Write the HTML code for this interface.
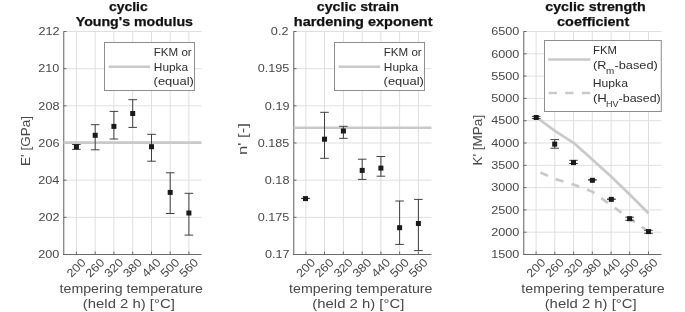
<!DOCTYPE html>
<html><head><meta charset="utf-8"><style>
html,body{margin:0;padding:0;background:#fff;}
svg{display:block;font-family:"Liberation Sans", sans-serif;}
text{-webkit-font-smoothing:antialiased;}
svg{will-change:transform;}
</style></head><body>
<svg width="685" height="312" viewBox="0 0 685 312">
<rect width="685" height="312" fill="#fff"/>
<line x1="63.5" y1="31.50" x2="201.5" y2="31.50" stroke="#dfdfdf" stroke-width="1"/>
<line x1="63.5" y1="68.67" x2="201.5" y2="68.67" stroke="#dfdfdf" stroke-width="1"/>
<line x1="63.5" y1="105.83" x2="201.5" y2="105.83" stroke="#dfdfdf" stroke-width="1"/>
<line x1="63.5" y1="143.00" x2="201.5" y2="143.00" stroke="#dfdfdf" stroke-width="1"/>
<line x1="63.5" y1="180.17" x2="201.5" y2="180.17" stroke="#dfdfdf" stroke-width="1"/>
<line x1="63.5" y1="217.33" x2="201.5" y2="217.33" stroke="#dfdfdf" stroke-width="1"/>
<line x1="76.4" y1="31.5" x2="76.4" y2="254.5" stroke="#dfdfdf" stroke-width="1"/>
<line x1="95.2" y1="31.5" x2="95.2" y2="254.5" stroke="#dfdfdf" stroke-width="1"/>
<line x1="113.9" y1="31.5" x2="113.9" y2="254.5" stroke="#dfdfdf" stroke-width="1"/>
<line x1="132.7" y1="31.5" x2="132.7" y2="254.5" stroke="#dfdfdf" stroke-width="1"/>
<line x1="151.5" y1="31.5" x2="151.5" y2="254.5" stroke="#dfdfdf" stroke-width="1"/>
<line x1="170.2" y1="31.5" x2="170.2" y2="254.5" stroke="#dfdfdf" stroke-width="1"/>
<line x1="188.9" y1="31.5" x2="188.9" y2="254.5" stroke="#dfdfdf" stroke-width="1"/>
<line x1="63.75" y1="31.5" x2="63.75" y2="255.0" stroke="#6d6d6d" stroke-width="1.1"/>
<line x1="63.0" y1="254.5" x2="201.5" y2="254.5" stroke="#6a6a6a" stroke-width="1"/>
<line x1="63.5" y1="31.50" x2="66.5" y2="31.50" stroke="#6a6a6a" stroke-width="1"/>
<text x="38.45" y="35.25" font-size="11.6" font-weight="normal" fill="#484848" textLength="21.10" lengthAdjust="spacingAndGlyphs">212</text>
<line x1="63.5" y1="68.67" x2="66.5" y2="68.67" stroke="#6a6a6a" stroke-width="1"/>
<text x="38.29" y="72.42" font-size="11.6" font-weight="normal" fill="#484848" textLength="21.10" lengthAdjust="spacingAndGlyphs">210</text>
<line x1="63.5" y1="105.83" x2="66.5" y2="105.83" stroke="#6a6a6a" stroke-width="1"/>
<text x="38.35" y="109.58" font-size="11.6" font-weight="normal" fill="#484848" textLength="21.10" lengthAdjust="spacingAndGlyphs">208</text>
<line x1="63.5" y1="143.00" x2="66.5" y2="143.00" stroke="#6a6a6a" stroke-width="1"/>
<text x="38.35" y="146.75" font-size="11.6" font-weight="normal" fill="#484848" textLength="21.10" lengthAdjust="spacingAndGlyphs">206</text>
<line x1="63.5" y1="180.17" x2="66.5" y2="180.17" stroke="#6a6a6a" stroke-width="1"/>
<text x="38.16" y="183.92" font-size="11.6" font-weight="normal" fill="#484848" textLength="21.10" lengthAdjust="spacingAndGlyphs">204</text>
<line x1="63.5" y1="217.33" x2="66.5" y2="217.33" stroke="#6a6a6a" stroke-width="1"/>
<text x="38.45" y="221.08" font-size="11.6" font-weight="normal" fill="#484848" textLength="21.10" lengthAdjust="spacingAndGlyphs">202</text>
<line x1="63.5" y1="254.50" x2="66.5" y2="254.50" stroke="#6a6a6a" stroke-width="1"/>
<text x="38.29" y="258.25" font-size="11.6" font-weight="normal" fill="#484848" textLength="21.10" lengthAdjust="spacingAndGlyphs">200</text>
<line x1="76.4" y1="254.5" x2="76.4" y2="251.5" stroke="#6a6a6a" stroke-width="1"/>
<text transform="translate(86.40,263.20) rotate(-45)" x="-21.10" y="0" font-size="11.6" fill="#484848" textLength="21.10" lengthAdjust="spacingAndGlyphs">200</text>
<line x1="95.2" y1="254.5" x2="95.2" y2="251.5" stroke="#6a6a6a" stroke-width="1"/>
<text transform="translate(105.20,263.20) rotate(-45)" x="-21.10" y="0" font-size="11.6" fill="#484848" textLength="21.10" lengthAdjust="spacingAndGlyphs">260</text>
<line x1="113.9" y1="254.5" x2="113.9" y2="251.5" stroke="#6a6a6a" stroke-width="1"/>
<text transform="translate(123.90,263.20) rotate(-45)" x="-21.10" y="0" font-size="11.6" fill="#484848" textLength="21.10" lengthAdjust="spacingAndGlyphs">320</text>
<line x1="132.7" y1="254.5" x2="132.7" y2="251.5" stroke="#6a6a6a" stroke-width="1"/>
<text transform="translate(142.70,263.20) rotate(-45)" x="-21.10" y="0" font-size="11.6" fill="#484848" textLength="21.10" lengthAdjust="spacingAndGlyphs">380</text>
<line x1="151.5" y1="254.5" x2="151.5" y2="251.5" stroke="#6a6a6a" stroke-width="1"/>
<text transform="translate(161.50,263.20) rotate(-45)" x="-21.10" y="0" font-size="11.6" fill="#484848" textLength="21.10" lengthAdjust="spacingAndGlyphs">440</text>
<line x1="170.2" y1="254.5" x2="170.2" y2="251.5" stroke="#6a6a6a" stroke-width="1"/>
<text transform="translate(180.20,263.20) rotate(-45)" x="-21.10" y="0" font-size="11.6" fill="#484848" textLength="21.10" lengthAdjust="spacingAndGlyphs">500</text>
<line x1="188.9" y1="254.5" x2="188.9" y2="251.5" stroke="#6a6a6a" stroke-width="1"/>
<text transform="translate(198.90,263.20) rotate(-45)" x="-21.10" y="0" font-size="11.6" fill="#484848" textLength="21.10" lengthAdjust="spacingAndGlyphs">560</text>
<line x1="293.5" y1="31.50" x2="431.5" y2="31.50" stroke="#dfdfdf" stroke-width="1"/>
<line x1="293.5" y1="68.67" x2="431.5" y2="68.67" stroke="#dfdfdf" stroke-width="1"/>
<line x1="293.5" y1="105.83" x2="431.5" y2="105.83" stroke="#dfdfdf" stroke-width="1"/>
<line x1="293.5" y1="143.00" x2="431.5" y2="143.00" stroke="#dfdfdf" stroke-width="1"/>
<line x1="293.5" y1="180.17" x2="431.5" y2="180.17" stroke="#dfdfdf" stroke-width="1"/>
<line x1="293.5" y1="217.33" x2="431.5" y2="217.33" stroke="#dfdfdf" stroke-width="1"/>
<line x1="305.9" y1="31.5" x2="305.9" y2="254.5" stroke="#dfdfdf" stroke-width="1"/>
<line x1="324.5" y1="31.5" x2="324.5" y2="254.5" stroke="#dfdfdf" stroke-width="1"/>
<line x1="343.4" y1="31.5" x2="343.4" y2="254.5" stroke="#dfdfdf" stroke-width="1"/>
<line x1="362.2" y1="31.5" x2="362.2" y2="254.5" stroke="#dfdfdf" stroke-width="1"/>
<line x1="380.9" y1="31.5" x2="380.9" y2="254.5" stroke="#dfdfdf" stroke-width="1"/>
<line x1="399.6" y1="31.5" x2="399.6" y2="254.5" stroke="#dfdfdf" stroke-width="1"/>
<line x1="418.4" y1="31.5" x2="418.4" y2="254.5" stroke="#dfdfdf" stroke-width="1"/>
<line x1="293.75" y1="31.5" x2="293.75" y2="255.0" stroke="#6d6d6d" stroke-width="1.1"/>
<line x1="293.0" y1="254.5" x2="431.5" y2="254.5" stroke="#6a6a6a" stroke-width="1"/>
<line x1="293.5" y1="31.50" x2="296.5" y2="31.50" stroke="#6a6a6a" stroke-width="1"/>
<text x="270.86" y="35.25" font-size="11.6" font-weight="normal" fill="#484848" textLength="17.58" lengthAdjust="spacingAndGlyphs">0.2</text>
<line x1="293.5" y1="68.67" x2="296.5" y2="68.67" stroke="#6a6a6a" stroke-width="1"/>
<text x="257.76" y="72.42" font-size="11.6" font-weight="normal" fill="#484848" textLength="31.64" lengthAdjust="spacingAndGlyphs">0.195</text>
<line x1="293.5" y1="105.83" x2="296.5" y2="105.83" stroke="#6a6a6a" stroke-width="1"/>
<text x="264.88" y="109.58" font-size="11.6" font-weight="normal" fill="#484848" textLength="24.61" lengthAdjust="spacingAndGlyphs">0.19</text>
<line x1="293.5" y1="143.00" x2="296.5" y2="143.00" stroke="#6a6a6a" stroke-width="1"/>
<text x="257.76" y="146.75" font-size="11.6" font-weight="normal" fill="#484848" textLength="31.64" lengthAdjust="spacingAndGlyphs">0.185</text>
<line x1="293.5" y1="180.17" x2="296.5" y2="180.17" stroke="#6a6a6a" stroke-width="1"/>
<text x="264.84" y="183.92" font-size="11.6" font-weight="normal" fill="#484848" textLength="24.61" lengthAdjust="spacingAndGlyphs">0.18</text>
<line x1="293.5" y1="217.33" x2="296.5" y2="217.33" stroke="#6a6a6a" stroke-width="1"/>
<text x="257.76" y="221.08" font-size="11.6" font-weight="normal" fill="#484848" textLength="31.64" lengthAdjust="spacingAndGlyphs">0.175</text>
<line x1="293.5" y1="254.50" x2="296.5" y2="254.50" stroke="#6a6a6a" stroke-width="1"/>
<text x="264.94" y="258.25" font-size="11.6" font-weight="normal" fill="#484848" textLength="24.61" lengthAdjust="spacingAndGlyphs">0.17</text>
<line x1="305.9" y1="254.5" x2="305.9" y2="251.5" stroke="#6a6a6a" stroke-width="1"/>
<text transform="translate(315.90,263.20) rotate(-45)" x="-21.10" y="0" font-size="11.6" fill="#484848" textLength="21.10" lengthAdjust="spacingAndGlyphs">200</text>
<line x1="324.5" y1="254.5" x2="324.5" y2="251.5" stroke="#6a6a6a" stroke-width="1"/>
<text transform="translate(334.50,263.20) rotate(-45)" x="-21.10" y="0" font-size="11.6" fill="#484848" textLength="21.10" lengthAdjust="spacingAndGlyphs">260</text>
<line x1="343.4" y1="254.5" x2="343.4" y2="251.5" stroke="#6a6a6a" stroke-width="1"/>
<text transform="translate(353.40,263.20) rotate(-45)" x="-21.10" y="0" font-size="11.6" fill="#484848" textLength="21.10" lengthAdjust="spacingAndGlyphs">320</text>
<line x1="362.2" y1="254.5" x2="362.2" y2="251.5" stroke="#6a6a6a" stroke-width="1"/>
<text transform="translate(372.20,263.20) rotate(-45)" x="-21.10" y="0" font-size="11.6" fill="#484848" textLength="21.10" lengthAdjust="spacingAndGlyphs">380</text>
<line x1="380.9" y1="254.5" x2="380.9" y2="251.5" stroke="#6a6a6a" stroke-width="1"/>
<text transform="translate(390.90,263.20) rotate(-45)" x="-21.10" y="0" font-size="11.6" fill="#484848" textLength="21.10" lengthAdjust="spacingAndGlyphs">440</text>
<line x1="399.6" y1="254.5" x2="399.6" y2="251.5" stroke="#6a6a6a" stroke-width="1"/>
<text transform="translate(409.60,263.20) rotate(-45)" x="-21.10" y="0" font-size="11.6" fill="#484848" textLength="21.10" lengthAdjust="spacingAndGlyphs">500</text>
<line x1="418.4" y1="254.5" x2="418.4" y2="251.5" stroke="#6a6a6a" stroke-width="1"/>
<text transform="translate(428.40,263.20) rotate(-45)" x="-21.10" y="0" font-size="11.6" fill="#484848" textLength="21.10" lengthAdjust="spacingAndGlyphs">560</text>
<line x1="523.5" y1="31.50" x2="661.5" y2="31.50" stroke="#dfdfdf" stroke-width="1"/>
<line x1="523.5" y1="53.80" x2="661.5" y2="53.80" stroke="#dfdfdf" stroke-width="1"/>
<line x1="523.5" y1="76.10" x2="661.5" y2="76.10" stroke="#dfdfdf" stroke-width="1"/>
<line x1="523.5" y1="98.40" x2="661.5" y2="98.40" stroke="#dfdfdf" stroke-width="1"/>
<line x1="523.5" y1="120.70" x2="661.5" y2="120.70" stroke="#dfdfdf" stroke-width="1"/>
<line x1="523.5" y1="143.00" x2="661.5" y2="143.00" stroke="#dfdfdf" stroke-width="1"/>
<line x1="523.5" y1="165.30" x2="661.5" y2="165.30" stroke="#dfdfdf" stroke-width="1"/>
<line x1="523.5" y1="187.60" x2="661.5" y2="187.60" stroke="#dfdfdf" stroke-width="1"/>
<line x1="523.5" y1="209.90" x2="661.5" y2="209.90" stroke="#dfdfdf" stroke-width="1"/>
<line x1="523.5" y1="232.20" x2="661.5" y2="232.20" stroke="#dfdfdf" stroke-width="1"/>
<line x1="536.1" y1="31.5" x2="536.1" y2="254.5" stroke="#dfdfdf" stroke-width="1"/>
<line x1="554.8" y1="31.5" x2="554.8" y2="254.5" stroke="#dfdfdf" stroke-width="1"/>
<line x1="573.6" y1="31.5" x2="573.6" y2="254.5" stroke="#dfdfdf" stroke-width="1"/>
<line x1="592.3" y1="31.5" x2="592.3" y2="254.5" stroke="#dfdfdf" stroke-width="1"/>
<line x1="611.1" y1="31.5" x2="611.1" y2="254.5" stroke="#dfdfdf" stroke-width="1"/>
<line x1="629.7" y1="31.5" x2="629.7" y2="254.5" stroke="#dfdfdf" stroke-width="1"/>
<line x1="648.5" y1="31.5" x2="648.5" y2="254.5" stroke="#dfdfdf" stroke-width="1"/>
<line x1="523.75" y1="31.5" x2="523.75" y2="255.0" stroke="#6d6d6d" stroke-width="1.1"/>
<line x1="523.0" y1="254.5" x2="661.5" y2="254.5" stroke="#6a6a6a" stroke-width="1"/>
<line x1="523.5" y1="31.50" x2="526.5" y2="31.50" stroke="#6a6a6a" stroke-width="1"/>
<text x="491.27" y="35.25" font-size="11.6" font-weight="normal" fill="#484848" textLength="28.13" lengthAdjust="spacingAndGlyphs">6500</text>
<line x1="523.5" y1="53.80" x2="526.5" y2="53.80" stroke="#6a6a6a" stroke-width="1"/>
<text x="491.27" y="57.55" font-size="11.6" font-weight="normal" fill="#484848" textLength="28.13" lengthAdjust="spacingAndGlyphs">6000</text>
<line x1="523.5" y1="76.10" x2="526.5" y2="76.10" stroke="#6a6a6a" stroke-width="1"/>
<text x="491.27" y="79.85" font-size="11.6" font-weight="normal" fill="#484848" textLength="28.13" lengthAdjust="spacingAndGlyphs">5500</text>
<line x1="523.5" y1="98.40" x2="526.5" y2="98.40" stroke="#6a6a6a" stroke-width="1"/>
<text x="491.27" y="102.15" font-size="11.6" font-weight="normal" fill="#484848" textLength="28.13" lengthAdjust="spacingAndGlyphs">5000</text>
<line x1="523.5" y1="120.70" x2="526.5" y2="120.70" stroke="#6a6a6a" stroke-width="1"/>
<text x="491.27" y="124.45" font-size="11.6" font-weight="normal" fill="#484848" textLength="28.13" lengthAdjust="spacingAndGlyphs">4500</text>
<line x1="523.5" y1="143.00" x2="526.5" y2="143.00" stroke="#6a6a6a" stroke-width="1"/>
<text x="491.27" y="146.75" font-size="11.6" font-weight="normal" fill="#484848" textLength="28.13" lengthAdjust="spacingAndGlyphs">4000</text>
<line x1="523.5" y1="165.30" x2="526.5" y2="165.30" stroke="#6a6a6a" stroke-width="1"/>
<text x="491.27" y="169.05" font-size="11.6" font-weight="normal" fill="#484848" textLength="28.13" lengthAdjust="spacingAndGlyphs">3500</text>
<line x1="523.5" y1="187.60" x2="526.5" y2="187.60" stroke="#6a6a6a" stroke-width="1"/>
<text x="491.27" y="191.35" font-size="11.6" font-weight="normal" fill="#484848" textLength="28.13" lengthAdjust="spacingAndGlyphs">3000</text>
<line x1="523.5" y1="209.90" x2="526.5" y2="209.90" stroke="#6a6a6a" stroke-width="1"/>
<text x="491.27" y="213.65" font-size="11.6" font-weight="normal" fill="#484848" textLength="28.13" lengthAdjust="spacingAndGlyphs">2500</text>
<line x1="523.5" y1="232.20" x2="526.5" y2="232.20" stroke="#6a6a6a" stroke-width="1"/>
<text x="491.27" y="235.95" font-size="11.6" font-weight="normal" fill="#484848" textLength="28.13" lengthAdjust="spacingAndGlyphs">2000</text>
<line x1="523.5" y1="254.50" x2="526.5" y2="254.50" stroke="#6a6a6a" stroke-width="1"/>
<text x="491.27" y="258.25" font-size="11.6" font-weight="normal" fill="#484848" textLength="28.13" lengthAdjust="spacingAndGlyphs">1500</text>
<line x1="536.1" y1="254.5" x2="536.1" y2="251.5" stroke="#6a6a6a" stroke-width="1"/>
<text transform="translate(546.10,263.20) rotate(-45)" x="-21.10" y="0" font-size="11.6" fill="#484848" textLength="21.10" lengthAdjust="spacingAndGlyphs">200</text>
<line x1="554.8" y1="254.5" x2="554.8" y2="251.5" stroke="#6a6a6a" stroke-width="1"/>
<text transform="translate(564.80,263.20) rotate(-45)" x="-21.10" y="0" font-size="11.6" fill="#484848" textLength="21.10" lengthAdjust="spacingAndGlyphs">260</text>
<line x1="573.6" y1="254.5" x2="573.6" y2="251.5" stroke="#6a6a6a" stroke-width="1"/>
<text transform="translate(583.60,263.20) rotate(-45)" x="-21.10" y="0" font-size="11.6" fill="#484848" textLength="21.10" lengthAdjust="spacingAndGlyphs">320</text>
<line x1="592.3" y1="254.5" x2="592.3" y2="251.5" stroke="#6a6a6a" stroke-width="1"/>
<text transform="translate(602.30,263.20) rotate(-45)" x="-21.10" y="0" font-size="11.6" fill="#484848" textLength="21.10" lengthAdjust="spacingAndGlyphs">380</text>
<line x1="611.1" y1="254.5" x2="611.1" y2="251.5" stroke="#6a6a6a" stroke-width="1"/>
<text transform="translate(621.10,263.20) rotate(-45)" x="-21.10" y="0" font-size="11.6" fill="#484848" textLength="21.10" lengthAdjust="spacingAndGlyphs">440</text>
<line x1="629.7" y1="254.5" x2="629.7" y2="251.5" stroke="#6a6a6a" stroke-width="1"/>
<text transform="translate(639.70,263.20) rotate(-45)" x="-21.10" y="0" font-size="11.6" fill="#484848" textLength="21.10" lengthAdjust="spacingAndGlyphs">500</text>
<line x1="648.5" y1="254.5" x2="648.5" y2="251.5" stroke="#6a6a6a" stroke-width="1"/>
<text transform="translate(658.50,263.20) rotate(-45)" x="-21.10" y="0" font-size="11.6" fill="#484848" textLength="21.10" lengthAdjust="spacingAndGlyphs">560</text>
<text x="108.94" y="10.90" font-size="12.8" font-weight="bold" fill="#111" textLength="38.85" lengthAdjust="spacingAndGlyphs" stroke="#111" stroke-width="0.25">cyclic</text>
<text x="75.75" y="25.60" font-size="12.8" font-weight="bold" fill="#111" textLength="117.25" lengthAdjust="spacingAndGlyphs" stroke="#111" stroke-width="0.25">Young's modulus</text>
<text x="316.83" y="10.90" font-size="12.8" font-weight="bold" fill="#111" textLength="82.04" lengthAdjust="spacingAndGlyphs" stroke="#111" stroke-width="0.25">cyclic strain</text>
<text x="293.78" y="25.60" font-size="12.8" font-weight="bold" fill="#111" textLength="138.72" lengthAdjust="spacingAndGlyphs" stroke="#111" stroke-width="0.25">hardening exponent</text>
<text x="545.23" y="10.90" font-size="12.8" font-weight="bold" fill="#111" textLength="100.44" lengthAdjust="spacingAndGlyphs" stroke="#111" stroke-width="0.25">cyclic strength</text>
<text x="557.12" y="25.60" font-size="12.8" font-weight="bold" fill="#111" textLength="72.07" lengthAdjust="spacingAndGlyphs" stroke="#111" stroke-width="0.25">coefficient</text>
<text x="59.59" y="292.80" font-size="12.8" font-weight="normal" fill="#484848" textLength="143.34" lengthAdjust="spacingAndGlyphs">tempering temperature</text>
<text x="82.87" y="307.50" font-size="12.8" font-weight="normal" fill="#484848" textLength="91.98" lengthAdjust="spacingAndGlyphs">(held 2 h) [°C]</text>
<text x="289.09" y="292.80" font-size="12.8" font-weight="normal" fill="#484848" textLength="143.34" lengthAdjust="spacingAndGlyphs">tempering temperature</text>
<text x="312.37" y="307.50" font-size="12.8" font-weight="normal" fill="#484848" textLength="91.98" lengthAdjust="spacingAndGlyphs">(held 2 h) [°C]</text>
<text x="521.39" y="292.80" font-size="12.8" font-weight="normal" fill="#484848" textLength="143.34" lengthAdjust="spacingAndGlyphs">tempering temperature</text>
<text x="544.67" y="307.50" font-size="12.8" font-weight="normal" fill="#484848" textLength="91.98" lengthAdjust="spacingAndGlyphs">(held 2 h) [°C]</text>
<text transform="rotate(-90)" x="-165.92" y="29.60" font-size="12.8" fill="#484848" textLength="49.96" lengthAdjust="spacingAndGlyphs">E' [GPa]</text>
<text transform="rotate(-90)" x="-155.03" y="246.60" font-size="12.8" fill="#484848" textLength="31.91" lengthAdjust="spacingAndGlyphs">n' [-]</text>
<text transform="rotate(-90)" x="-165.52" y="482.00" font-size="12.8" fill="#484848" textLength="50.66" lengthAdjust="spacingAndGlyphs">K' [MPa]</text>
<line x1="63.5" y1="142.6" x2="201.5" y2="142.6" stroke="#c9c9c9" stroke-width="2.6"/>
<line x1="293.5" y1="127.8" x2="431.5" y2="127.8" stroke="#c9c9c9" stroke-width="2.6"/>
<polyline points="536.2,117.0 554.8,130.8 573.6,142.8 592.3,159.6 611.1,176.5 629.7,194.5 648.5,213.2" fill="none" stroke="#c9c9c9" stroke-width="2.7" stroke-linejoin="round"/>
<polyline points="536.1,170.5 554.8,178.9 573.6,184.6 592.3,191.6 611.1,205.2 629.7,218.6 648.5,231.5" fill="none" stroke="#c9c9c9" stroke-width="2.7" stroke-dasharray="8.3 8.3" stroke-dashoffset="11.9"/>
<line x1="76.4" y1="144.5" x2="76.4" y2="149.4" stroke="#404040" stroke-width="1"/>
<line x1="72.10000000000001" y1="144.5" x2="80.7" y2="144.5" stroke="#404040" stroke-width="1"/>
<line x1="72.10000000000001" y1="149.4" x2="80.7" y2="149.4" stroke="#404040" stroke-width="1"/>
<rect x="73.90" y="144.30" width="5.0" height="5.0" fill="#1a1a1a"/>
<line x1="95.2" y1="124.7" x2="95.2" y2="149.8" stroke="#404040" stroke-width="1"/>
<line x1="90.9" y1="124.7" x2="99.5" y2="124.7" stroke="#404040" stroke-width="1"/>
<line x1="90.9" y1="149.8" x2="99.5" y2="149.8" stroke="#404040" stroke-width="1"/>
<rect x="92.70" y="132.80" width="5.0" height="5.0" fill="#1a1a1a"/>
<line x1="113.9" y1="111.4" x2="113.9" y2="139.0" stroke="#404040" stroke-width="1"/>
<line x1="109.60000000000001" y1="111.4" x2="118.2" y2="111.4" stroke="#404040" stroke-width="1"/>
<line x1="109.60000000000001" y1="139.0" x2="118.2" y2="139.0" stroke="#404040" stroke-width="1"/>
<rect x="111.40" y="123.90" width="5.0" height="5.0" fill="#1a1a1a"/>
<line x1="132.7" y1="99.7" x2="132.7" y2="127.4" stroke="#404040" stroke-width="1"/>
<line x1="128.39999999999998" y1="99.7" x2="137.0" y2="99.7" stroke="#404040" stroke-width="1"/>
<line x1="128.39999999999998" y1="127.4" x2="137.0" y2="127.4" stroke="#404040" stroke-width="1"/>
<rect x="130.20" y="111.00" width="5.0" height="5.0" fill="#1a1a1a"/>
<line x1="151.5" y1="134.3" x2="151.5" y2="161.2" stroke="#404040" stroke-width="1"/>
<line x1="147.2" y1="134.3" x2="155.8" y2="134.3" stroke="#404040" stroke-width="1"/>
<line x1="147.2" y1="161.2" x2="155.8" y2="161.2" stroke="#404040" stroke-width="1"/>
<rect x="149.00" y="144.20" width="5.0" height="5.0" fill="#1a1a1a"/>
<line x1="170.2" y1="172.8" x2="170.2" y2="213.5" stroke="#404040" stroke-width="1"/>
<line x1="165.89999999999998" y1="172.8" x2="174.5" y2="172.8" stroke="#404040" stroke-width="1"/>
<line x1="165.89999999999998" y1="213.5" x2="174.5" y2="213.5" stroke="#404040" stroke-width="1"/>
<rect x="167.70" y="189.90" width="5.0" height="5.0" fill="#1a1a1a"/>
<line x1="188.9" y1="193.3" x2="188.9" y2="235.1" stroke="#404040" stroke-width="1"/>
<line x1="184.6" y1="193.3" x2="193.20000000000002" y2="193.3" stroke="#404040" stroke-width="1"/>
<line x1="184.6" y1="235.1" x2="193.20000000000002" y2="235.1" stroke="#404040" stroke-width="1"/>
<rect x="186.40" y="210.50" width="5.0" height="5.0" fill="#1a1a1a"/>
<line x1="305.5" y1="198.4" x2="305.5" y2="198.4" stroke="#404040" stroke-width="1"/>
<line x1="301.2" y1="198.4" x2="309.8" y2="198.4" stroke="#404040" stroke-width="1"/>
<line x1="301.2" y1="198.4" x2="309.8" y2="198.4" stroke="#404040" stroke-width="1"/>
<rect x="303.00" y="196.10" width="5.0" height="5.0" fill="#1a1a1a"/>
<line x1="324.5" y1="112.3" x2="324.5" y2="158.3" stroke="#404040" stroke-width="1"/>
<line x1="320.2" y1="112.3" x2="328.8" y2="112.3" stroke="#404040" stroke-width="1"/>
<line x1="320.2" y1="158.3" x2="328.8" y2="158.3" stroke="#404040" stroke-width="1"/>
<rect x="322.00" y="136.70" width="5.0" height="5.0" fill="#1a1a1a"/>
<line x1="343.4" y1="126.3" x2="343.4" y2="138.3" stroke="#404040" stroke-width="1"/>
<line x1="339.09999999999997" y1="126.3" x2="347.7" y2="126.3" stroke="#404040" stroke-width="1"/>
<line x1="339.09999999999997" y1="138.3" x2="347.7" y2="138.3" stroke="#404040" stroke-width="1"/>
<rect x="340.90" y="128.50" width="5.0" height="5.0" fill="#1a1a1a"/>
<line x1="362.2" y1="159.2" x2="362.2" y2="179.4" stroke="#404040" stroke-width="1"/>
<line x1="357.9" y1="159.2" x2="366.5" y2="159.2" stroke="#404040" stroke-width="1"/>
<line x1="357.9" y1="179.4" x2="366.5" y2="179.4" stroke="#404040" stroke-width="1"/>
<rect x="359.70" y="167.90" width="5.0" height="5.0" fill="#1a1a1a"/>
<line x1="380.9" y1="156.5" x2="380.9" y2="176.2" stroke="#404040" stroke-width="1"/>
<line x1="376.59999999999997" y1="156.5" x2="385.2" y2="156.5" stroke="#404040" stroke-width="1"/>
<line x1="376.59999999999997" y1="176.2" x2="385.2" y2="176.2" stroke="#404040" stroke-width="1"/>
<rect x="378.40" y="165.60" width="5.0" height="5.0" fill="#1a1a1a"/>
<line x1="399.6" y1="201.0" x2="399.6" y2="244.4" stroke="#404040" stroke-width="1"/>
<line x1="395.3" y1="201.0" x2="403.90000000000003" y2="201.0" stroke="#404040" stroke-width="1"/>
<line x1="395.3" y1="244.4" x2="403.90000000000003" y2="244.4" stroke="#404040" stroke-width="1"/>
<rect x="397.10" y="225.20" width="5.0" height="5.0" fill="#1a1a1a"/>
<line x1="418.4" y1="199.4" x2="418.4" y2="250.6" stroke="#404040" stroke-width="1"/>
<line x1="414.09999999999997" y1="199.4" x2="422.7" y2="199.4" stroke="#404040" stroke-width="1"/>
<line x1="414.09999999999997" y1="250.6" x2="422.7" y2="250.6" stroke="#404040" stroke-width="1"/>
<rect x="415.90" y="221.00" width="5.0" height="5.0" fill="#1a1a1a"/>
<line x1="536.2" y1="116.4" x2="536.2" y2="118.5" stroke="#404040" stroke-width="1"/>
<line x1="531.9000000000001" y1="116.4" x2="540.5" y2="116.4" stroke="#404040" stroke-width="1"/>
<line x1="531.9000000000001" y1="118.5" x2="540.5" y2="118.5" stroke="#404040" stroke-width="1"/>
<rect x="533.70" y="115.00" width="5.0" height="5.0" fill="#1a1a1a"/>
<line x1="554.7" y1="139.6" x2="554.7" y2="148.2" stroke="#404040" stroke-width="1"/>
<line x1="550.4000000000001" y1="139.6" x2="559.0" y2="139.6" stroke="#404040" stroke-width="1"/>
<line x1="550.4000000000001" y1="148.2" x2="559.0" y2="148.2" stroke="#404040" stroke-width="1"/>
<rect x="552.20" y="141.60" width="5.0" height="5.0" fill="#1a1a1a"/>
<line x1="573.5" y1="160.3" x2="573.5" y2="163.5" stroke="#404040" stroke-width="1"/>
<line x1="569.2" y1="160.3" x2="577.8" y2="160.3" stroke="#404040" stroke-width="1"/>
<line x1="569.2" y1="163.5" x2="577.8" y2="163.5" stroke="#404040" stroke-width="1"/>
<rect x="571.00" y="160.10" width="5.0" height="5.0" fill="#1a1a1a"/>
<line x1="592.4" y1="179.9" x2="592.4" y2="179.9" stroke="#404040" stroke-width="1"/>
<line x1="588.1" y1="179.9" x2="596.6999999999999" y2="179.9" stroke="#404040" stroke-width="1"/>
<line x1="588.1" y1="179.9" x2="596.6999999999999" y2="179.9" stroke="#404040" stroke-width="1"/>
<rect x="589.90" y="177.80" width="5.0" height="5.0" fill="#1a1a1a"/>
<line x1="611.3" y1="199.2" x2="611.3" y2="199.2" stroke="#404040" stroke-width="1"/>
<line x1="607.0" y1="199.2" x2="615.5999999999999" y2="199.2" stroke="#404040" stroke-width="1"/>
<line x1="607.0" y1="199.2" x2="615.5999999999999" y2="199.2" stroke="#404040" stroke-width="1"/>
<rect x="608.80" y="196.85" width="5.0" height="5.0" fill="#1a1a1a"/>
<line x1="629.6" y1="217.2" x2="629.6" y2="220.3" stroke="#404040" stroke-width="1"/>
<line x1="625.3000000000001" y1="217.2" x2="633.9" y2="217.2" stroke="#404040" stroke-width="1"/>
<line x1="625.3000000000001" y1="220.3" x2="633.9" y2="220.3" stroke="#404040" stroke-width="1"/>
<rect x="627.10" y="216.20" width="5.0" height="5.0" fill="#1a1a1a"/>
<line x1="648.5" y1="230.3" x2="648.5" y2="233.3" stroke="#404040" stroke-width="1"/>
<line x1="644.2" y1="230.3" x2="652.8" y2="230.3" stroke="#404040" stroke-width="1"/>
<line x1="644.2" y1="233.3" x2="652.8" y2="233.3" stroke="#404040" stroke-width="1"/>
<rect x="646.00" y="229.10" width="5.0" height="5.0" fill="#1a1a1a"/>
<rect x="104.5" y="42.5" width="90" height="48" fill="#fff" stroke="#8e8e8e" stroke-width="1"/>
<line x1="108.7" y1="66.8" x2="150.0" y2="66.8" stroke="#c9c9c9" stroke-width="2.6"/>
<text x="153.75" y="56.10" font-size="10.6" font-weight="normal" fill="#2e2e2e" textLength="37.93" lengthAdjust="spacingAndGlyphs">FKM or</text>
<text x="153.82" y="70.50" font-size="10.6" font-weight="normal" fill="#2e2e2e" textLength="34.36" lengthAdjust="spacingAndGlyphs">Hupka</text>
<text x="153.59" y="84.90" font-size="10.6" font-weight="normal" fill="#2e2e2e" textLength="40.29" lengthAdjust="spacingAndGlyphs">(equal)</text>
<rect x="334.5" y="42.5" width="90" height="48" fill="#fff" stroke="#8e8e8e" stroke-width="1"/>
<line x1="338.7" y1="66.8" x2="380.0" y2="66.8" stroke="#c9c9c9" stroke-width="2.6"/>
<text x="383.75" y="56.10" font-size="10.6" font-weight="normal" fill="#2e2e2e" textLength="37.93" lengthAdjust="spacingAndGlyphs">FKM or</text>
<text x="383.82" y="70.50" font-size="10.6" font-weight="normal" fill="#2e2e2e" textLength="34.36" lengthAdjust="spacingAndGlyphs">Hupka</text>
<text x="383.59" y="84.90" font-size="10.6" font-weight="normal" fill="#2e2e2e" textLength="40.29" lengthAdjust="spacingAndGlyphs">(equal)</text>
<rect x="544.5" y="40.5" width="116.8" height="71" fill="#fff" stroke="#8e8e8e" stroke-width="1"/>
<line x1="548.3" y1="59.5" x2="590.3" y2="59.5" stroke="#c9c9c9" stroke-width="2.4"/>
<line x1="548.6" y1="93" x2="590.2" y2="93" stroke="#c9c9c9" stroke-width="2.4" stroke-dasharray="8.3 8.35"/>
<text x="593.07" y="54.00" font-size="10.6" font-weight="normal" fill="#2e2e2e" textLength="23.88" lengthAdjust="spacingAndGlyphs">FKM</text>
<text x="593.01" y="68.60" font-size="10.6" font-weight="normal" fill="#2e2e2e" textLength="13.40" lengthAdjust="spacingAndGlyphs">(R</text>
<text x="606.13" y="73.50" font-size="8.9" font-weight="normal" fill="#2e2e2e" textLength="8.21" lengthAdjust="spacingAndGlyphs">m</text>
<text x="614.42" y="68.60" font-size="10.6" font-weight="normal" fill="#2e2e2e" textLength="43.35" lengthAdjust="spacingAndGlyphs">-based)</text>
<text x="592.80" y="87.30" font-size="10.6" font-weight="normal" fill="#2e2e2e" textLength="35.18" lengthAdjust="spacingAndGlyphs">Hupka</text>
<text x="592.98" y="102.00" font-size="10.6" font-weight="normal" fill="#2e2e2e" textLength="13.91" lengthAdjust="spacingAndGlyphs">(H</text>
<text x="606.05" y="107.00" font-size="8.7" font-weight="normal" fill="#2e2e2e" textLength="12.59" lengthAdjust="spacingAndGlyphs">HV</text>
<text x="618.64" y="102.00" font-size="10.6" font-weight="normal" fill="#2e2e2e" textLength="42.11" lengthAdjust="spacingAndGlyphs">-based)</text>
</svg>
</body></html>
